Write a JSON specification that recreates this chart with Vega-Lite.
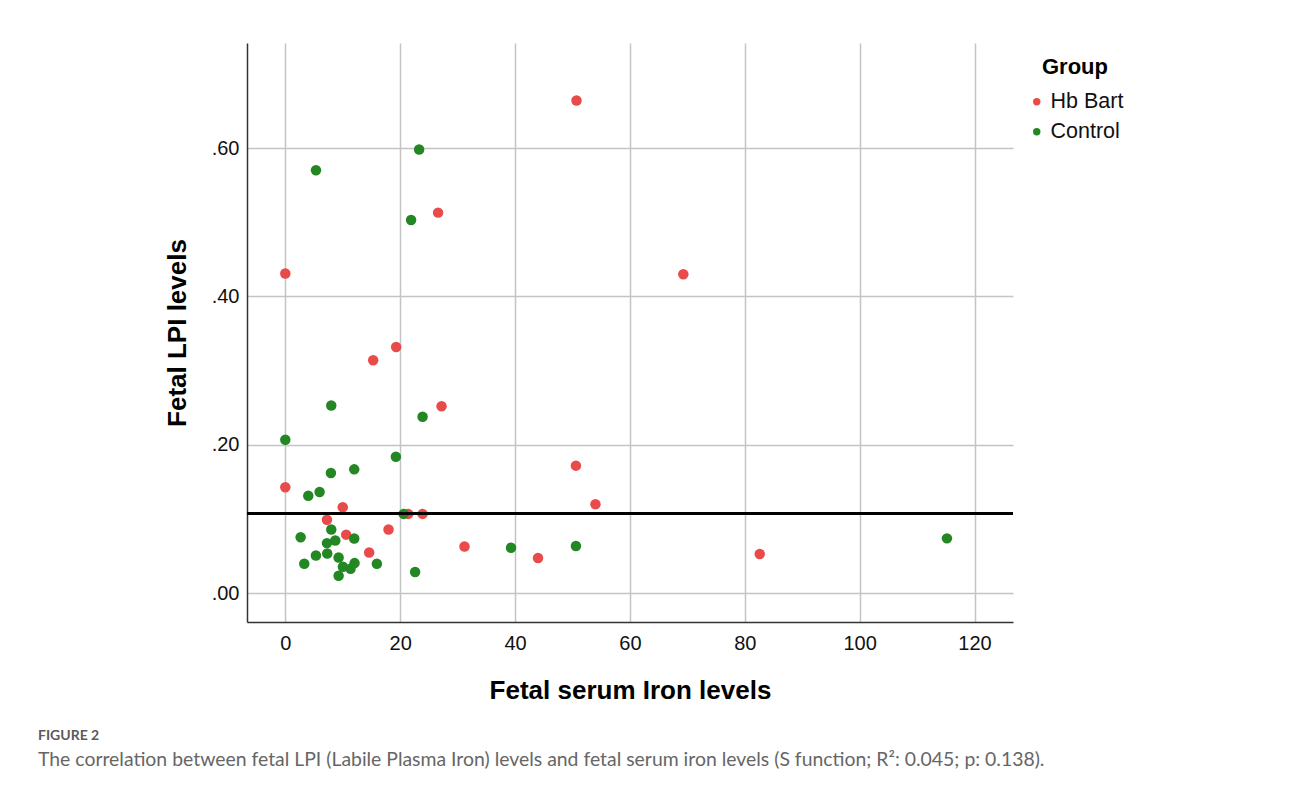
{
  "$schema": "https://vega.github.io/schema/vega-lite/v6.json",
  "autosize": "none",
  "width": 766,
  "height": 579,
  "padding": {"left": 247, "top": 43, "right": 277, "bottom": 169},
  "background": "white",
  "config": {
    "view": {"stroke": null},
    "font": "Liberation Sans"
  },
  "title": {
    "text": "FIGURE 2",
    "subtitle": "The correlation between fetal LPI (Labile Plasma Iron) levels and fetal serum iron levels (S function; R²: 0.045; p: 0.138).",
    "orient": "bottom",
    "anchor": "start",
    "frame": "group",
    "dx": -209,
    "offset": 26,
    "font": "Lato",
    "fontSize": 14,
    "fontWeight": "bold",
    "color": "#5a5a5a",
    "subtitleFont": "Lato",
    "subtitleFontSize": 19.4,
    "subtitleColor": "#666666",
    "subtitlePadding": 8
  },
  "data": {
    "values": [
      {"iron": 50.7, "lpi": 0.664, "Group": "Hb Bart"},
      {"iron": 26.6, "lpi": 0.513, "Group": "Hb Bart"},
      {"iron": 0, "lpi": 0.431, "Group": "Hb Bart"},
      {"iron": 69.3, "lpi": 0.430, "Group": "Hb Bart"},
      {"iron": 19.3, "lpi": 0.332, "Group": "Hb Bart"},
      {"iron": 15.3, "lpi": 0.314, "Group": "Hb Bart"},
      {"iron": 27.2, "lpi": 0.252, "Group": "Hb Bart"},
      {"iron": 0, "lpi": 0.143, "Group": "Hb Bart"},
      {"iron": 10.0, "lpi": 0.116, "Group": "Hb Bart"},
      {"iron": 21.4, "lpi": 0.107, "Group": "Hb Bart"},
      {"iron": 23.9, "lpi": 0.107, "Group": "Hb Bart"},
      {"iron": 7.25, "lpi": 0.099, "Group": "Hb Bart"},
      {"iron": 17.97, "lpi": 0.086, "Group": "Hb Bart"},
      {"iron": 10.6, "lpi": 0.079, "Group": "Hb Bart"},
      {"iron": 31.2, "lpi": 0.063, "Group": "Hb Bart"},
      {"iron": 14.6, "lpi": 0.055, "Group": "Hb Bart"},
      {"iron": 50.6, "lpi": 0.172, "Group": "Hb Bart"},
      {"iron": 54.0, "lpi": 0.120, "Group": "Hb Bart"},
      {"iron": 44.0, "lpi": 0.0475, "Group": "Hb Bart"},
      {"iron": 82.6, "lpi": 0.053, "Group": "Hb Bart"},
      {"iron": 23.3, "lpi": 0.598, "Group": "Control"},
      {"iron": 5.34, "lpi": 0.570, "Group": "Control"},
      {"iron": 21.9, "lpi": 0.503, "Group": "Control"},
      {"iron": 8.0, "lpi": 0.253, "Group": "Control"},
      {"iron": 23.9, "lpi": 0.238, "Group": "Control"},
      {"iron": 0, "lpi": 0.207, "Group": "Control"},
      {"iron": 19.25, "lpi": 0.184, "Group": "Control"},
      {"iron": 7.94, "lpi": 0.162, "Group": "Control"},
      {"iron": 12.0, "lpi": 0.167, "Group": "Control"},
      {"iron": 4.0, "lpi": 0.1315, "Group": "Control"},
      {"iron": 5.97, "lpi": 0.1365, "Group": "Control"},
      {"iron": 20.6, "lpi": 0.107, "Group": "Control"},
      {"iron": 8.0, "lpi": 0.086, "Group": "Control"},
      {"iron": 2.67, "lpi": 0.0756, "Group": "Control"},
      {"iron": 12.0, "lpi": 0.0738, "Group": "Control"},
      {"iron": 8.7, "lpi": 0.0711, "Group": "Control"},
      {"iron": 7.25, "lpi": 0.0676, "Group": "Control"},
      {"iron": 5.33, "lpi": 0.051, "Group": "Control"},
      {"iron": 7.3, "lpi": 0.0537, "Group": "Control"},
      {"iron": 9.28, "lpi": 0.0483, "Group": "Control"},
      {"iron": 3.3, "lpi": 0.0398, "Group": "Control"},
      {"iron": 12.06, "lpi": 0.0407, "Group": "Control"},
      {"iron": 11.36, "lpi": 0.0331, "Group": "Control"},
      {"iron": 10.03, "lpi": 0.0358, "Group": "Control"},
      {"iron": 15.94, "lpi": 0.0398, "Group": "Control"},
      {"iron": 9.28, "lpi": 0.0237, "Group": "Control"},
      {"iron": 22.6, "lpi": 0.0286, "Group": "Control"},
      {"iron": 39.3, "lpi": 0.0614, "Group": "Control"},
      {"iron": 50.6, "lpi": 0.0637, "Group": "Control"},
      {"iron": 115.2, "lpi": 0.074, "Group": "Control"}
    ]
  },
  "layer": [
    {
      "mark": {"type": "point", "filled": true, "opacity": 1, "size": 110, "shape": "circle"},
      "encoding": {
        "x": {
          "field": "iron", "type": "quantitative",
          "scale": {"domain": [-6.67, 126.7], "nice": false, "zero": false},
          "axis": {
            "title": "Fetal serum Iron levels",
            "values": [0, 20, 40, 60, 80, 100, 120],
            "format": "d",
            "grid": true, "gridColor": "#c4c4c4", "gridWidth": 1.5,
            "domainColor": "#333333", "domainWidth": 1.5,
            "ticks": false,
            "labelFontSize": 20, "labelColor": "#111111", "labelPadding": 11,
            "titleFontSize": 26, "titleFontWeight": "bold", "titleColor": "#000000", "titlePadding": 24
          }
        },
        "y": {
          "field": "lpi", "type": "quantitative",
          "scale": {"domain": [-0.0387, 0.7416], "nice": false, "zero": false},
          "axis": {
            "title": "Fetal LPI levels",
            "values": [0, 0.2, 0.4, 0.6],
            "labelExpr": "replace(format(datum.value, '.2f'), '0.', '.')",
            "grid": true, "gridColor": "#c4c4c4", "gridWidth": 1.5,
            "domainColor": "#333333", "domainWidth": 1.5,
            "ticks": false,
            "labelFontSize": 20, "labelColor": "#111111", "labelPadding": 8,
            "titleFontSize": 26, "titleFontWeight": "bold", "titleColor": "#000000", "titlePadding": 21
          }
        },
        "color": {
          "field": "Group", "type": "nominal",
          "scale": {"domain": ["Hb Bart", "Control"], "range": ["#e94b4b", "#238723"]},
          "legend": {
            "title": "Group",
            "orient": "none",
            "legendX": 779,
            "legendY": 14,
            "titleFontSize": 22,
            "titleFontWeight": "bold",
            "titleColor": "#000000",
            "titleAnchor": "middle",
            "titlePadding": 12,
            "labelFontSize": 21.5,
            "labelColor": "#111111",
            "symbolSize": 55,
            "symbolType": "circle",
            "rowPadding": 7,
            "labelOffset": 3
          }
        }
      }
    },
    {
      "mark": {"type": "rule", "color": "#000000", "strokeWidth": 2.5},
      "encoding": {"y": {"datum": 0.1074}}
    }
  ]
}
